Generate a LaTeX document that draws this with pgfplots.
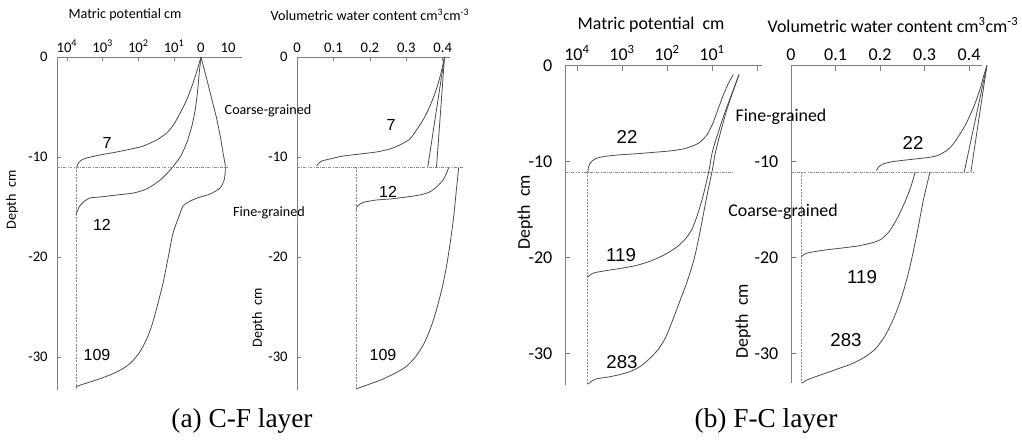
\documentclass[border=0pt]{standalone}
\usepackage{pgfplots}
\pgfplotsset{compat=1.18}
\usepackage{fontspec}
\setmainfont{Carlito}
\newfontfamily\ari{Liberation Sans}
\newfontfamily\tim{Liberation Serif}
\definecolor{axgray}{gray}{0.5}
\definecolor{crv}{gray}{0.3}
\definecolor{dgray}{gray}{0.55}
\pgfplotsset{
  base/.style={scale only axis, clip=false, axis x line=top, axis y line=left,
    axis line style={-,axgray,line width=0.6pt}, tick align=inside,
    major tick length=3pt, tick style={axgray,line width=0.5pt},
    ytick={0,-10,-20,-30}, yticklabels={0,-10,-20,-30}},
  pa/.style={base, ticklabel style={font=\fontsize{11}{13}\selectfont},
    yticklabel style={xshift=-3.5pt}, height=249.75pt, ymin=-33.3, ymax=0},
  pb/.style={base, ticklabel style={font=\fontsize{13.5}{16}\selectfont},
    yticklabel style={xshift=-6pt}, major tick length=4pt},
  cv/.style={crv, line width=0.6pt, smooth, tension=0.4, mark=none},
  dd/.style={dgray, line width=0.5pt, dash pattern=on 2.2pt off 1pt on 0.5pt off 1pt, mark=none},
  vd/.style={dgray, line width=0.5pt, dash pattern=on 1.5pt off 1pt, mark=none},
}
\begin{document}
\begin{tikzpicture}
% ---------- panel 1 ----------
\begin{axis}[pa, at={(42.75pt,-42.75pt)}, anchor=north west, width=138.75pt,
  xmin=-0.28, xmax=4.90, xtick={0,1,2,3}, xticklabels={10\textsuperscript{4},10\textsuperscript{3},10\textsuperscript{2},10\textsuperscript{1}},
  extra x ticks={3.75,4.51}, extra x tick labels={0,10}, extra x tick style={major tick length=0pt}]
\addplot[cv] coordinates {(3.75,0) (3.63,-1.5) (3.49,-3.0) (3.35,-4.3) (3.17,-5.6) (2.98,-6.8) (2.79,-7.6) (2.51,-8.3) (2.14,-8.9) (1.86,-9.15) (1.39,-9.5) (0.92,-9.8) (0.55,-10.1) (0.41,-10.3) (0.32,-10.6) (0.27,-11.0)};
\addplot[cv] coordinates {(3.75,0) (3.70,-1.7) (3.66,-3.3) (3.59,-5.3) (3.49,-7.0) (3.35,-8.6) (3.17,-10.0) (2.89,-11.3) (2.61,-12.3) (2.23,-13.2) (1.86,-13.6) (1.39,-13.8) (0.92,-14.0) (0.64,-14.1) (0.46,-14.5) (0.34,-15.0) (0.27,-15.6) (0.25,-15.8)};
\addplot[cv] coordinates {(3.75,0) (3.92,-2.3) (4.06,-4.3) (4.20,-6.3) (4.31,-8.3) (4.37,-9.6) (4.43,-10.8) (4.43,-11.5) (4.40,-12.3) (4.29,-13.1) (4.01,-13.7) (3.73,-14.0) (3.45,-14.4) (3.25,-14.9) (3.17,-15.6) (2.97,-17.6) (2.83,-20.1) (2.69,-22.6) (2.52,-25.0) (2.38,-26.8) (2.22,-28.3) (2.02,-29.6) (1.78,-30.6) (1.50,-31.3) (1.20,-31.8) (0.90,-32.2) (0.60,-32.55) (0.38,-32.8) (0.25,-33.0)};
\addplot[dd] coordinates {(-0.28,-11) (4.51,-11)};
\addplot[vd] coordinates {(0.25,-11) (0.25,-33.3)};
\end{axis}
% ---------- panel 2 ----------
\begin{axis}[pa, at={(222.75pt,-42.75pt)}, anchor=north west, width=114.75pt,
  xmin=0, xmax=0.42, xtick={0,0.1,0.2,0.3,0.4}, xticklabels={0,0.1,0.2,0.3,0.4}]
\addplot[cv] coordinates {(0.405,0) (0.396,-1.5) (0.387,-2.7) (0.378,-3.7) (0.364,-5.0) (0.346,-6.3) (0.328,-7.3) (0.310,-8.2) (0.282,-8.8) (0.255,-9.2) (0.218,-9.5) (0.173,-9.7) (0.127,-9.9) (0.090,-10.2) (0.068,-10.4) (0.058,-10.7) (0.054,-10.9)};
\addplot[crv, line width=0.6pt] coordinates {(0.405,0) (0.359,-11)};
\addplot[crv, line width=0.6pt] coordinates {(0.405,0) (0.383,-11)};
\addplot[cv] coordinates {(0.417,-11.0) (0.412,-11.5) (0.401,-12.3) (0.383,-13.0) (0.364,-13.5) (0.337,-13.8) (0.301,-14.0) (0.255,-14.2) (0.218,-14.3) (0.186,-14.5) (0.173,-14.7) (0.164,-15.0) (0.162,-15.3)};
\addplot[cv] coordinates {(0.444,-11.0) (0.437,-13.5) (0.430,-16.0) (0.421,-18.5) (0.411,-20.8) (0.399,-23.0) (0.385,-25.0) (0.368,-27.0) (0.348,-28.7) (0.325,-30.0) (0.298,-31.0) (0.265,-31.7) (0.230,-32.3) (0.200,-32.7) (0.177,-33.0) (0.162,-33.2)};
\addplot[dd] coordinates {(0,-11) (0.455,-11)};
\addplot[vd] coordinates {(0.162,-11) (0.162,-33.3)};
\end{axis}
% ---------- panel 3 ----------
\begin{axis}[pb, at={(423.75pt,-49.125pt)}, anchor=north west, width=147.75pt, height=239.6pt,
  xmin=-0.267, xmax=4.11, ymin=-33.28, ymax=0, xtick={0,1,2,3,4},
  xticklabels={10\textsuperscript{4},10\textsuperscript{3},10\textsuperscript{2},10\textsuperscript{1},{}}]
\addplot[cv] coordinates {(3.47,-0.94) (3.35,-2.0) (3.24,-3.2) (3.13,-4.6) (3.02,-6.0) (2.89,-7.2) (2.70,-8.1) (2.40,-8.65) (2.07,-8.9) (1.69,-9.05) (1.30,-9.2) (0.96,-9.3) (0.65,-9.45) (0.44,-9.65) (0.32,-10.0) (0.26,-10.5) (0.24,-11.1)};
\addplot[cv] coordinates {(3.60,-0.94) (3.27,-5.1) (3.02,-8.75) (2.93,-11.0) (2.80,-13.6) (2.68,-15.5) (2.56,-17.0) (2.42,-18.0) (2.22,-18.9) (1.95,-19.7) (1.62,-20.4) (1.30,-20.85) (0.95,-21.15) (0.60,-21.4) (0.38,-21.6) (0.28,-21.85) (0.24,-22.1)};
\addplot[cv] coordinates {(3.60,-0.94) (3.33,-4.58) (3.09,-8.75) (3.00,-11.04) (2.87,-13.96) (2.73,-17.4) (2.60,-20.2) (2.44,-22.6) (2.24,-25.1) (2.07,-27.2) (1.95,-28.5) (1.80,-29.6) (1.62,-30.5) (1.42,-31.3) (1.20,-31.85) (0.95,-32.2) (0.70,-32.45) (0.47,-32.6) (0.35,-32.8) (0.24,-33.2)};
\addplot[dd] coordinates {(-0.267,-11.1) (3.47,-11.1)};
\addplot[vd] coordinates {(0.24,-11.1) (0.24,-33.28)};
\end{axis}
% ---------- panel 4 ----------
\begin{axis}[pb, at={(593.25pt,-49.125pt)}, anchor=north west, width=143.25pt, height=238.1pt,
  xmin=0, xmax=0.429, ymin=-33.07, ymax=0, xtick={0,0.1,0.2,0.3,0.4}, xticklabels={0,0.1,0.2,0.3,0.4},
  yticklabels={{},-10,-20,-30}]
\addplot[cv] coordinates {(0.440,0) (0.432,-1.2) (0.425,-2.4) (0.413,-4.0) (0.402,-5.2) (0.391,-6.25) (0.380,-7.1) (0.365,-8.15) (0.350,-8.85) (0.328,-9.4) (0.305,-9.6) (0.267,-9.8) (0.230,-10.0) (0.207,-10.25) (0.196,-10.6) (0.192,-11.0)};
\addplot[crv, line width=0.6pt] coordinates {(0.44,0) (0.389,-11.1)};
\addplot[crv, line width=0.6pt] coordinates {(0.44,0) (0.404,-11.1)};
\addplot[cv] coordinates {(0.279,-11.1) (0.268,-12.8) (0.255,-14.3) (0.240,-15.8) (0.222,-17.2) (0.204,-18.05) (0.184,-18.45) (0.150,-18.8) (0.117,-19.0) (0.080,-19.2) (0.045,-19.45) (0.030,-19.65) (0.022,-20.0)};
\addplot[cv] coordinates {(0.312,-11.1) (0.297,-14.1) (0.283,-17.5) (0.267,-21.0) (0.250,-23.9) (0.232,-26.2) (0.212,-28.1) (0.190,-29.5) (0.165,-30.4) (0.135,-31.1) (0.105,-31.6) (0.075,-32.1) (0.050,-32.5) (0.032,-32.85) (0.025,-33.1)};
\addplot[dd] coordinates {(0,-11.1) (0.409,-11.1)};
\addplot[vd] coordinates {(0.0225,-11.1) (0.0225,-33.07)};
\end{axis}
% ---------- texts ----------
\begin{scope}[x=0.75pt,y=-0.75pt]
\def\fa{\fontsize{10.6}{12}\selectfont}
\def\fb{\fontsize{13.4}{15}\selectfont}
\node[font=\fa] at (125,15) {Matric potential cm};
\node[font=\fa] at (370,15) {Volumetric water content cm\textsuperscript{3}cm\textsuperscript{-3}};
\node[font=\fb] at (651,25) {Matric potential\ \ cm};
\node[font=\fb] at (893,25) {Volumetric water content cm\textsuperscript{3}cm\textsuperscript{-3}};
\node[font=\fa, rotate=90] at (12,200) {Depth\ \ cm};
\node[font=\fa, rotate=90] at (258,318) {Depth\ \ cm};
\node[font=\fb, rotate=90] at (525,212) {Depth\ \ cm};
\node[font=\fb, rotate=90] at (743,321) {Depth\ \ cm};
\node[font=\fa] at (268,111) {Coarse-grained};
\node[font=\fa] at (269,213) {Fine-grained};
\node[font=\fb] at (781,117) {Fine-grained};
\node[font=\fb] at (783,212) {Coarse-grained};
\def\na{\ari\fontsize{12}{14}\selectfont}
\def\nb{\ari\fontsize{14}{16}\selectfont}
\node[font=\na] at (107,143) {7};
\node[font=\na] at (102,225) {12};
\node[font=\na] at (97,355) {109};
\node[font=\na] at (391,125) {7};
\node[font=\na] at (388,192) {12};
\node[font=\na] at (383,355) {109};
\node[font=\nb] at (627,137) {22};
\node[font=\nb] at (621,255) {119};
\node[font=\nb] at (622,362) {283};
\node[font=\nb] at (913,143) {22};
\node[font=\nb] at (862,277) {119};
\node[font=\nb] at (846,340) {283};
\node[font=\tim\fontsize{20.5}{22}\selectfont] at (242,421) {(a) C-F layer};
\node[font=\tim\fontsize{20.5}{22}\selectfont] at (766,421) {(b) F-C layer};
\end{scope}
\pgfresetboundingbox
\path[x=0.75pt,y=-0.75pt] (0,0) rectangle (1022,442);
\end{tikzpicture}
\end{document}
